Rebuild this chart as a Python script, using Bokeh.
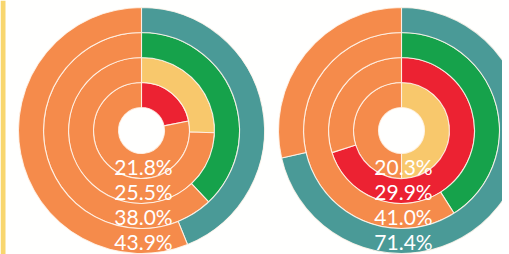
import math
from bokeh.plotting import figure
from bokeh.models import Range1d, ColumnDataSource, BoxAnnotation
from bokeh.core.properties import value
from bokeh.embed import file_html
from bokeh.resources import INLINE

# ---- data (inner ring -> outer ring) ----
left_shares = [0.218, 0.255, 0.380, 0.439]
left_labels = ["21.8%", "25.5%", "38.0%", "43.9%"]
left_colors = ["#EC2232", "#F8C86C", "#16A24B", "#4A9A97"]

right_shares = [0.50, 0.701, 0.410, 0.714]
right_labels = ["20.3%", "29.9%", "41.0%", "71.4%"]
right_colors = ["#F8C86C", "#EC2232", "#16A24B", "#4A9A97"]

rest_color = "#F58B4B"

# ---- layout ----
W, H = 502, 254
p = figure(width=W, height=H, output_backend="svg", toolbar_location=None,
           x_range=Range1d(0, W), y_range=Range1d(0, H),
           min_border=0, background_fill_color="#FFFFFE",
           border_fill_color="#FFFFFE")
p.axis.visible = False
p.grid.visible = False
p.outline_line_color = None

# decorative yellow page edge on the left
p.add_layout(BoxAnnotation(left=0, right=5, fill_color="#F8D66E",
                           fill_alpha=1.0, line_color=None, level="underlay"))

hole = 23.0
ring_w = 25.0
centers = [(141.0, H - 130.0), (401.0, H - 130.0)]


def draw_chart(cx, cy, shares, labels, colors):
    inner, outer, start, end, fill = [], [], [], [], []
    for i, s in enumerate(shares):
        r0 = hole + i * ring_w
        r1 = r0 + ring_w
        top = math.pi / 2
        cut = top - 2 * math.pi * s
        # coloured share, clockwise from 12 o'clock
        inner.append(r0); outer.append(r1)
        start.append(cut); end.append(top); fill.append(colors[i])
        # remainder
        inner.append(r0); outer.append(r1)
        start.append(top); end.append(cut); fill.append(rest_color)
    src = ColumnDataSource(dict(x=[cx] * len(inner), y=[cy] * len(inner),
                                ri=inner, ro=outer, sa=start, ea=end, c=fill))
    p.annular_wedge(x="x", y="y", inner_radius="ri", outer_radius="ro",
                    start_angle="sa", end_angle="ea", fill_color="c",
                    line_color="#FFF6EC", line_width=1.1, line_alpha=0.85,
                    source=src)
    ty = [cy - (hole + (i + 0.5) * ring_w) for i in range(len(labels))]
    tsrc = ColumnDataSource(dict(x=[cx + 2] * len(labels), y=ty, t=labels))
    p.text(x="x", y="y", text="t", source=tsrc, text_color="#FFFFFF",
           text_font=value("Lato"), text_font_size="21px",
           text_align="center", text_baseline="middle")


draw_chart(*centers[0], left_shares, left_labels, left_colors)
draw_chart(*centers[1], right_shares, right_labels, right_colors)

open("out.html", "w").write(file_html(p, INLINE))
